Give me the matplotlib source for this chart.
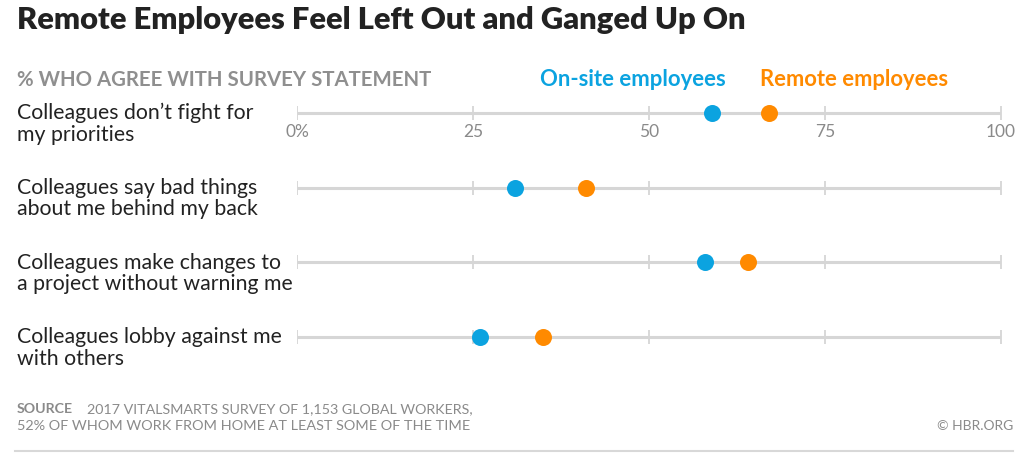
import matplotlib
matplotlib.use("Agg")
import matplotlib.pyplot as plt
from matplotlib.lines import Line2D

statements = [
    "Colleagues don\u2019t fight for\nmy priorities",
    "Colleagues say bad things\nabout me behind my back",
    "Colleagues make changes to\na project without warning me",
    "Colleagues lobby against me\nwith others",
]
onsite = [59, 31, 58, 26]
remote = [67, 41, 64, 35]
ticks = [0, 25, 50, 75, 100]
tick_labels = ["0%", "25", "50", "75", "100"]

BLUE = "#0ba3e0"
ORANGE = "#ff8a00"
GRID = "#d6d6d6"
GRAY = "#8a8a8a"

plt.rcParams["font.family"] = ["Lato", "DejaVu Sans"]

W, H = 1033, 475
fig = plt.figure(figsize=(W / 100, H / 100), dpi=100)

# axes mapped so rows land at the right pixel heights
left, right = 297 / W, 1001 / W
top_px, bot_px = 94.3, 355.7
ax = fig.add_axes([left, 1 - bot_px / H, right - left, (bot_px - top_px) / H])
ax.set_xlim(0, 100)
ax.set_ylim(3.25, -0.25)
ax.axis("off")

for i in range(len(statements)):
    ax.plot([0, 100], [i, i], color=GRID, lw=2.2, zorder=1, solid_capstyle="butt")
    ax.plot(ticks, [i] * len(ticks), ls="none", marker="|", markersize=10,
            markeredgewidth=1.3, color=GRID, zorder=1)

ax.scatter(onsite, range(len(onsite)), s=150, color=BLUE, zorder=3, linewidths=0)
ax.scatter(remote, range(len(remote)), s=150, color=ORANGE, zorder=3, linewidths=0)

for t, lab in zip(ticks, tick_labels):
    ax.text(t, 0.25, lab, ha="center", va="center", fontsize=12.5, color=GRAY)

# row labels
for i, s in enumerate(statements):
    y = 1 - (113 + i * 74.67 + 11) / H
    fig.text(17 / W, y, s, ha="left", va="center", fontsize=15.3,
             color="#222222", linespacing=1.1)

fig.text(17 / W, 1 - 20 / H, "Remote Employees Feel Left Out and Ganged Up On",
         ha="left", va="center", fontsize=22.2, fontweight="heavy", color="#222222")
fig.text(17 / W, 1 - 80 / H, "% WHO AGREE WITH SURVEY STATEMENT",
         ha="left", va="center", fontsize=14.7, fontweight="bold", color="#8f8f8f")
fig.text(540 / W, 1 - 80 / H, "On-site employees", ha="left", va="center",
         fontsize=15.9, fontweight="bold", color=BLUE)
fig.text(760 / W, 1 - 80 / H, "Remote employees", ha="left", va="center",
         fontsize=15.8, fontweight="bold", color=ORANGE)

fig.text(17 / W, 1 - 413 / H, "SOURCE", ha="left", va="baseline",
         fontsize=10.2, fontweight="bold", color=GRAY)
fig.text(87 / W, 1 - 413 / H, "2017 VITALSMARTS SURVEY OF 1,153 GLOBAL WORKERS,",
         ha="left", va="baseline", fontsize=10.3, color=GRAY)
fig.text(17 / W, 1 - 430 / H, "52% OF WHOM WORK FROM HOME AT LEAST SOME OF THE TIME",
         ha="left", va="baseline", fontsize=10.4, color=GRAY)
fig.text(1013 / W, 1 - 430 / H, "\u00a9 HBR.ORG", ha="right", va="baseline",
         fontsize=10, color=GRAY)

fig.add_artist(Line2D([15 / W, 1013 / W], [1 - 451 / H, 1 - 451 / H],
                      color="#d8d8d8", lw=1.5))

fig.savefig("out.png", dpi=100, facecolor="white")
